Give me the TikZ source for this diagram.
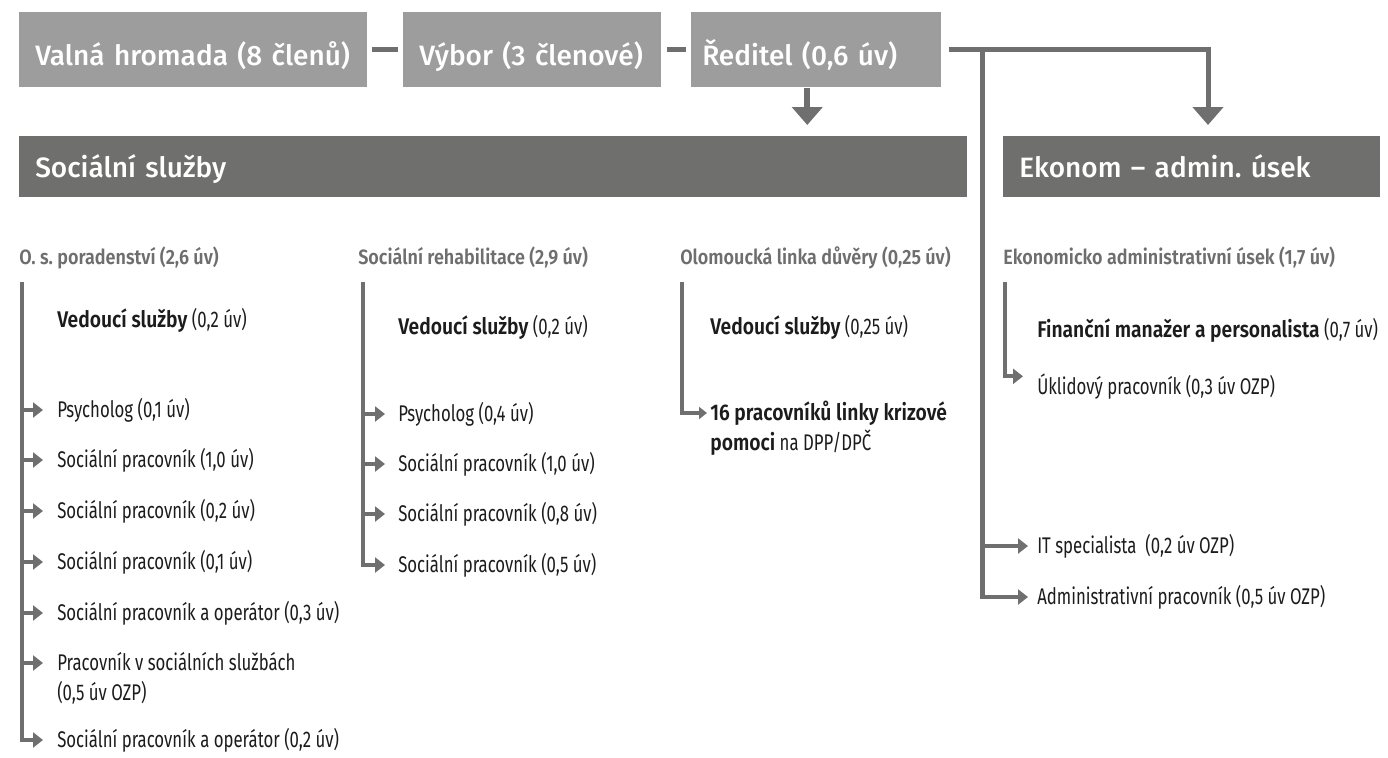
\documentclass[tikz,border=0pt]{standalone}
\usepackage{fontspec}
\usetikzlibrary{arrows.meta}
\setmainfont{Fira Sans}
\frenchspacing
\IfFontExistsTF{Fira Sans Medium}{\newfontfamily\medf{Fira Sans Medium}}{\newfontfamily\medf{Fira Sans}[UprightFeatures={FakeBold=1}]}
\IfFontExistsTF{Fira Sans SemiBold}{\newfontfamily\headf[FakeStretch=0.87]{Fira Sans SemiBold}}{\newfontfamily\headf[FakeStretch=0.87,FakeBold=1]{Fira Sans}}
\IfFontExistsTF{Fira Sans Book}{\newfontfamily\bodyf[FakeStretch=0.76]{Fira Sans Book}}{\newfontfamily\bodyf[FakeStretch=0.74]{Fira Sans}}
\IfFontExistsTF{Fira Sans SemiBold}{\newfontfamily\bodyb[FakeStretch=0.85]{Fira Sans SemiBold}}{\newfontfamily\bodyb[FakeStretch=0.85,FakeBold=1.5]{Fira Sans}}
\definecolor{boxlight}{HTML}{9D9D9D}
\definecolor{boxdark}{HTML}{6F6F6E}
\definecolor{linegray}{HTML}{6F6F6F}
\definecolor{headgray}{HTML}{6E6E6E}
\definecolor{bodytxt}{HTML}{1C1C1C}
\begin{document}
\begin{tikzpicture}[x=0.75pt,y=-0.75pt,
  topbox/.style={fill=boxlight, text=white, font=\medf\fontsize{21}{25}\selectfont,
    inner ysep=0pt, text height=39.75pt, text depth=16.5pt, align=left, anchor=north west},
  bar/.style={fill=boxdark, text=white, font=\medf\fontsize{21}{25}\selectfont,
    inner ysep=0pt, inner xsep=12pt, text height=30.75pt, text depth=15pt, align=left, anchor=north west},
  colhead/.style={text=headgray, font=\headf\fontsize{15.5}{18}\selectfont, inner sep=0pt,
    anchor=west, text height=10.5pt, text depth=0pt},
  body/.style={text=bodytxt, font=\bodyf\fontsize{17}{22.5}\selectfont, inner sep=0pt,
    anchor=west, text height=11pt, text depth=0.5pt},
  conn/.style={draw=linegray, line width=3.75pt},
  bigtip/.style={-{Triangle[length=13.5pt,width=22.5pt]}},
  branch/.style={draw=linegray, line width=3pt, -{Triangle[length=7.5pt,width=11.25pt]}},
  smalltip/.style={draw=linegray, line width=3pt, -{Triangle[length=6pt,width=9pt]}},
]
\useasboundingbox (0,0) rectangle (1388,757);

% top row
\node[topbox, inner xsep=12pt, text width=237pt] (vh) at (19,12) {Valná hromada (8 členů)};
\node[topbox, inner xsep=12pt, text width=169.5pt] (vy) at (403,12) {Výbor (3 členové)};
\node[topbox, inner xsep=8.25pt, text width=171pt] (re) at (691,12) {Ředitel (0,6 úv)};

% bars
\node[bar, text width=687pt] (ss) at (19,136) {Sociální služby};
\node[bar, text width=258.75pt] (ek) at (1003,136) {Ekonom – admin. úsek};

% top connectors
\draw[conn, shorten <=3pt, shorten >=3.75pt] (vh.east) -- (vy.west);
\draw[conn, shorten <=3.75pt, shorten >=3.75pt] (vy.east) -- (re.west);
\coordinate (ekin) at ([xshift=153.75pt]ek.north west);
\draw[conn, line width=4.5pt, bigtip, shorten >=8.25pt] ([xshift=-6.75pt]re.south) -- ([xshift=-6.75pt]re.south |- ss.north);
\draw[conn, bigtip, shorten <=5.25pt, shorten >=8.25pt] (re.east) -| (ekin);
\path (re.east) ++(41,0) coordinate (tj);

% column headers
\node[colhead] (h1) at (19,257) {O. s. poradenství (2,6 úv)};
\node[colhead] (h2) at (358,257) {Sociální rehabilitace (2,9 úv)};
\node[colhead] (h3) at (680,257) {Olomoucká linka důvěry (0,25 úv)};
\node[colhead] (h4) at (1003,257) {Ekonomicko administrativní úsek (1,7 úv)};

% column 1
\coordinate (l1) at (22,282);
\node[body] (a0) at (57,320) {{\bodyb Vedoucí služby} (0,2 úv)};
\node[body] (a1) at (57,410) {Psycholog (0,1 úv)};
\node[body] (a2) at (57,460) {Sociální pracovník (1,0 úv)};
\node[body] (a3) at (57,511) {Sociální pracovník (0,2 úv)};
\node[body] (a4) at (57,562) {Sociální pracovník (0,1 úv)};
\node[body] (a5) at (57,613) {Sociální pracovník a operátor (0,3 úv)};
\node[body] (a6) at (57,663) {\vtop{\hbox{Pracovník v sociálních službách}\hbox{(0,5 úv OZP)}}};
\node[body] (a7) at (57,740) {Sociální pracovník a operátor (0,2 úv)};
\foreach \n in {a1,a2,a3,a4,a5,a6}
  \draw[branch] (l1 |- \n.west) -- ([xshift=-10.5pt]\n.west);
\draw[branch] (l1) |- ([xshift=-10.5pt]a7.west);

% column 2
\coordinate (l2) at (363,282);
\node[body] (b0) at (398,327) {{\bodyb Vedoucí služby} (0,2 úv)};
\node[body] (b1) at (398,414) {Psycholog (0,4 úv)};
\node[body] (b2) at (398,464) {Sociální pracovník (1,0 úv)};
\node[body] (b3) at (398,514) {Sociální pracovník (0,8 úv)};
\node[body] (b4) at (398,565) {Sociální pracovník (0,5 úv)};
\foreach \n in {b1,b2,b3}
  \draw[branch] (l2 |- \n.west) -- ([xshift=-9.75pt]\n.west);
\draw[branch] (l2) |- ([xshift=-9.75pt]b4.west);

% column 3
\coordinate (l3) at (682,282);
\node[body] (c0) at (710,327) {{\bodyb Vedoucí služby} (0,25 úv)};
\node[body] (c1) at (710,413) {\vtop{\hbox{\bodyb 16 pracovníků linky krizové}\hbox{{\bodyb pomoci} na DPP/DPČ}}};
\draw[smalltip] (l3) |- ([xshift=-2.25pt]c1.west);

% column 4
\coordinate (l4) at (1005,282);
\node[body] (d0) at (1037,330) {{\bodyb Finanční manažer a personalista} (0,7 úv)};
\node[body] (d1) at (1037,387) {Úklidový pracovník (0,3 úv OZP)};
\node[body] (d2) at (1037,546) {IT specialista\ \ (0,2 úv OZP)};
\node[body] (d3) at (1037,597) {Administrativní pracovník (0,5 úv OZP)};
\draw[branch] (l4) |- ([xshift=-10.5pt,yshift=8pt]d1.west);
\draw[branch] (tj |- d2.west) -- ([xshift=-6.75pt]d2.west);
\draw[branch, line width=3.5pt] (tj) |- ([xshift=-6.75pt]d3.west);
\end{tikzpicture}
\end{document}
